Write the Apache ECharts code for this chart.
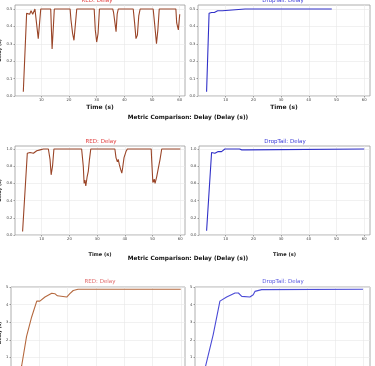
<!DOCTYPE html>
<html><head><meta charset="utf-8">
<script src="https://cdn.jsdelivr.net/npm/echarts@6/dist/echarts.min.js"></script>
<style>html,body{margin:0;padding:0;background:#fff}#c{width:375px;height:366px}</style>
</head><body><div id="c"></div>
<script>
// ---- data ----
const xTicks = [10, 20, 30, 40, 50, 60];
const yTicksA = [0, 0.1, 0.2, 0.3, 0.4, 0.5];
const yTicksB = [0, 0.2, 0.4, 0.6, 0.8, 1.0];
const yTicksC = [0, 1, 2, 3, 4, 5];
const mainTitle = 'Metric Comparison: Delay (Delay (s))';
const redTitle = 'RED: Delay';
const dropTitle = 'DropTail: Delay';

// figure 1 (top, clipped)
const red1T = [3.5,4.7,5.3,5.8,6.3,6.9,7.7,8.3,8.9,9.3,9.8,13.4,13.9,14.4,14.7,20.4,20.7,21.3,21.8,22.3,22.8,29.1,29.5,30.0,30.5,31.0,35.8,36.1,36.6,37.0,37.4,37.8,43.2,43.7,44.2,44.7,45.2,45.7,50.4,50.9,51.6,52.1,52.6,58.6,58.9,59.5,60.0];
const red1Y = [0.025,0.475,0.48,0.47,0.49,0.47,0.5,0.5,0.33,0.32,0.5,0.5,0.27,0.41,0.5,0.5,0.44,0.36,0.32,0.41,0.5,0.5,0.38,0.31,0.36,0.5,0.5,0.48,0.42,0.37,0.47,0.5,0.5,0.42,0.33,0.35,0.46,0.5,0.5,0.42,0.30,0.38,0.5,0.5,0.42,0.38,0.47];
const drop1T = [3.1,4.0,4.9,5.4,5.9,6.4,7.1,7.9,8.8,9.5,17.0,17.5,18.0,48.3];
const drop1Y = [0.025,0.475,0.48,0.47,0.48,0.47,0.49,0.49,0.49,0.5,0.5,0.497,0.5,0.5];

// figure 2
const red2T = [3.1,4.8,5.2,5.8,6.4,7.0,7.6,8.2,8.8,9.4,10.6,12.4,13.0,13.4,13.6,13.9,14.4,24.4,25.0,25.3,25.6,25.9,26.4,26.8,27.2,27.7,36.4,36.8,37.3,37.6,38.0,38.5,38.9,39.2,39.7,40.4,40.9,49.5,49.7,50.1,50.6,50.9,51.5,52.1,52.7,53.3,60.0];
const red2Y = [0.04,0.95,0.97,0.96,0.95,0.95,0.96,0.98,0.97,0.99,1.0,1.0,0.88,0.70,0.72,0.80,1.0,1.0,0.80,0.60,0.64,0.57,0.68,0.74,0.87,1.0,1.0,0.90,0.85,0.88,0.82,0.76,0.72,0.78,0.90,0.97,1.0,1.0,0.86,0.61,0.65,0.60,0.68,0.78,0.88,1.0,1.0];
const drop2T = [3.1,4.9,5.5,6.1,6.7,7.3,7.9,8.5,9.1,9.7,15.0,15.8,16.5,17.3,60.0];
const drop2Y = [0.05,0.96,0.96,0.95,0.96,0.97,0.98,0.97,0.99,1.0,1.0,0.99,1.0,0.99,1.0];

// figure 3 (bottom, clipped)
const red3T = [2.8,3.8,5.5,7.3,9.1,10.2,12.0,14.4,15.5,16.4,16.8,19.7,20.8,22.0,23.7,60.0];
const red3Y = [0.0,0.56,2.2,3.3,4.2,4.2,4.43,4.65,4.62,4.5,4.43,4.43,4.62,4.8,4.87,4.87];
const drop3T = [2.9,3.8,6.5,8.9,11.3,14.3,15.5,16.7,19.6,20.8,21.4,23.8,60.0];
const drop3Y = [0.0,0.53,2.3,4.2,4.43,4.66,4.66,4.47,4.43,4.56,4.75,4.85,4.87];

// ---- chart ----
const zip = (t, y) => t.map((v, i) => [v, y[i]]);
const FONT = 'DejaVu Sans';
const panels = [
  {grid:{left:15,top:5,width:170,height:91}, x:[0.5,61.9], y:[0,0.523], yt:yTicksA, fmt:v=>v.toFixed(1), data:zip(red1T,red1Y), color:'#9a4528', yname:true, xname:6},
  {grid:{left:198,top:5,width:172,height:91}, x:[0,62.1], y:[0,0.523], yt:yTicksA, fmt:v=>v.toFixed(1), data:zip(drop1T,drop1Y), color:'#3030c8', yname:false, xname:6},
  {grid:{left:15,top:146,width:170,height:89}, x:[0.36,61.7], y:[0,1.035], yt:yTicksB, fmt:v=>v.toFixed(1), data:zip(red2T,red2Y), color:'#9a4528', yname:true, xname:5},
  {grid:{left:199,top:146,width:171,height:89}, x:[0.36,62.1], y:[0,1.035], yt:yTicksB, fmt:v=>v.toFixed(1), data:zip(drop2T,drop2Y), color:'#3030c8', yname:false, xname:5},
  {grid:{left:11,top:287,width:174,height:92}, x:[0,61.5], y:[-0.22,5.0], yt:yTicksC, fmt:v=>String(v), data:zip(red3T,red3Y), color:'#b5693f', yname:true, xname:5},
  {grid:{left:195,top:287,width:175,height:92}, x:[0,62.5], y:[-0.22,5.0], yt:yTicksC, fmt:v=>String(v), data:zip(drop3T,drop3Y), color:'#4b4bd6', yname:false, xname:5}
];
const grids = [], xAxes = [], yAxes = [], series = [];
panels.forEach((p, i) => {
  grids.push(Object.assign({show:true, borderColor:'#9a9a9a', borderWidth:0.8, backgroundColor:'transparent',
    containLabel:false, outerBoundsMode:'none'}, p.grid));
  xAxes.push({type:'value', gridIndex:i, min:p.x[0], max:p.x[1],
    name: i < 4 ? 'Time (s)' : '', nameLocation:'middle', nameGap: i<2 ? 8 : 17,
    nameTextStyle:{fontFamily:FONT, fontSize:p.xname, fontWeight:'bold', color:'#222'},
    axisLine:{show:false},
    axisTick:{show:true, customValues:xTicks, length:1.5, lineStyle:{color:'#666', width:0.6}},
    axisLabel:{customValues:xTicks, fontFamily:FONT, fontSize:3.8, color:'#444', margin:2.5},
    splitLine:{show:true, lineStyle:{color:'#e8e8e8', width:0.6}}});
  yAxes.push({type:'value', gridIndex:i, min:p.y[0], max:p.y[1],
    name: p.yname ? 'Delay (s)' : '', nameLocation:'middle', nameGap: i===4 ? 8 : 11, nameRotate:90,
    nameTextStyle:{fontFamily:FONT, fontSize:4.5, fontWeight:'bold', color:'#222'},
    axisLine:{show:false},
    axisTick:{show:true, customValues:p.yt, length:1.5, lineStyle:{color:'#666', width:0.6}},
    axisLabel:{customValues:p.yt, formatter:p.fmt, fontFamily:FONT, fontSize:3.8, color:'#444', margin:2.5},
    splitLine:{show:true, lineStyle:{color:'#e8e8e8', width:0.6}}});
  series.push({type:'line', xAxisIndex:i, yAxisIndex:i, data:p.data, showSymbol:false,
    lineStyle:{color:p.color, width:1.1}, silent:true, clip:true});
});
const subTitle = (text, x, cy, color) => ({text, left:x, top:cy - 3, textAlign:'center', padding:0,
  textStyle:{fontFamily:FONT, fontSize:5.5, fontWeight:'normal', color}});
const bigTitle = (cy) => ({text:mainTitle, left:188, top:cy - 3.5, textAlign:'center', padding:0,
  textStyle:{fontFamily:FONT, fontSize:5.8, fontWeight:'bold', color:'#111'}});
const titles = [
  subTitle(redTitle, 97, 1, '#e03a3a'), subTitle(dropTitle, 283, 1, '#3a3ad8'),
  bigTitle(118),
  subTitle(redTitle, 101, 142, '#e03a3a'), subTitle(dropTitle, 285, 142, '#3a3ad8'),
  bigTitle(259),
  subTitle(redTitle, 100, 282, '#e06a6a'), subTitle(dropTitle, 283, 282, '#5a5ae0')
];
const chart = echarts.init(document.getElementById('c'), null, {renderer:'canvas'});
chart.setOption({animation:false, backgroundColor:'#fff', title:titles, grid:grids, xAxis:xAxes, yAxis:yAxes, series});
</script></body></html>
